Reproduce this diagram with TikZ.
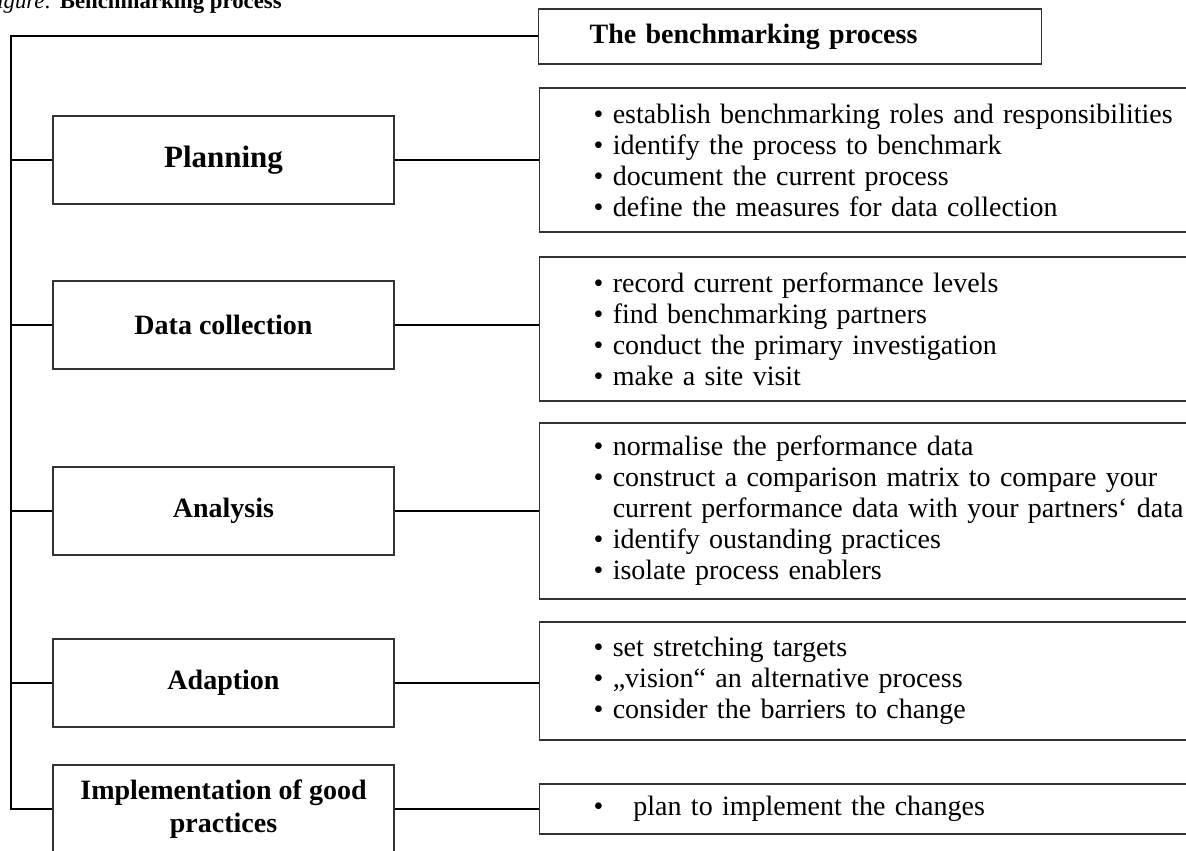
\documentclass[tikz,border=0pt]{standalone}
\usepackage{fontspec}
\setmainfont{Liberation Serif}
\usepackage{xcolor}

\begin{document}
\begin{tikzpicture}[x=0.5pt,y=-0.5pt]
\tikzset{every node/.style={inner sep=0pt}}
\tikzset{stage/.style={draw=black!80,line width=0.65pt,minimum width=170.5pt,minimum height=44pt,align=center,font=\fontsize{14}{16.5}\selectfont\bfseries}}
\tikzset{tasks/.style={draw=black!80,line width=0.65pt,anchor=west,minimum height=#1,inner xsep=27pt,text width=320pt,align=left,font=\fontsize{14}{15.5}\selectfont}}
\tikzset{link/.style={line width=1pt}}

\useasboundingbox (0,0) rectangle (1186,850);

% caption, cut by the page edge
\node[anchor=base west,font=\fontsize{11.4}{13}\selectfont] (caption) at (-17,9) {\textit{Figure:} \textbf{Benchmarking process}};

\node[draw=black!80,line width=0.65pt,anchor=west,minimum height=27.5pt,inner xsep=25.5pt,text width=200.5pt,align=left,font=\fontsize{14}{16}\selectfont\bfseries] (title) at (538,36.5) {The benchmarking process};

% stages
\node[stage,font=\fontsize{15.5}{17}\selectfont\bfseries] (plan) at (223.5,160) {Planning};
\node[stage] (data) at (223.5,325) {Data collection};
\node[stage] (anal) at (223.5,511) {Analysis};
\node[stage] (adapt) at (223.5,683) {Adaption};
\node[stage] (impl) at (223.5,809) {Implementation of good\\practices};

% activities
\node[tasks=72pt] (plantasks) at (539,160) {\textbullet{} establish benchmarking roles and responsibilities\\ \textbullet{} identify the process to benchmark\\ \textbullet{} document the current process\\ \textbullet{} define the measures for data collection};
\node[tasks=72pt] (datatasks) at (539,329) {\textbullet{} record current performance levels\\ \textbullet{} find benchmarking partners\\ \textbullet{} conduct the primary investigation\\ \textbullet{} make a site visit};
\node[tasks=88pt] (analtasks) at (539,511) {\textbullet{} normalise the performance data\\ \textbullet{} construct a comparison matrix to compare your\\ \hphantom{\textbullet\ }current performance data with your partners‘ data\\ \textbullet{} identify oustanding practices\\ \textbullet{} isolate process enablers};
\node[tasks=59pt] (adapttasks) at (539,681) {\textbullet{} set stretching targets\\ \textbullet{} „vision“ an alternative process\\ \textbullet{} consider the barriers to change};
\node[tasks=25pt] (impltasks) at (539,809) {\textbullet\hspace{15pt}plan to implement the changes};

% tree on the left
\coordinate (corner) at (11,36.5);
\draw[link] (title.west) -- (corner) |- (impl.west);
\foreach \s in {plan,data,anal,adapt}
  \draw[link] (\s.west) -- (\s.west -| corner);

\foreach \s in {plan,data,anal,adapt,impl}
  \draw[link] (\s.east) -- (\s.east -| \s tasks.west);

\end{tikzpicture}
\end{document}
